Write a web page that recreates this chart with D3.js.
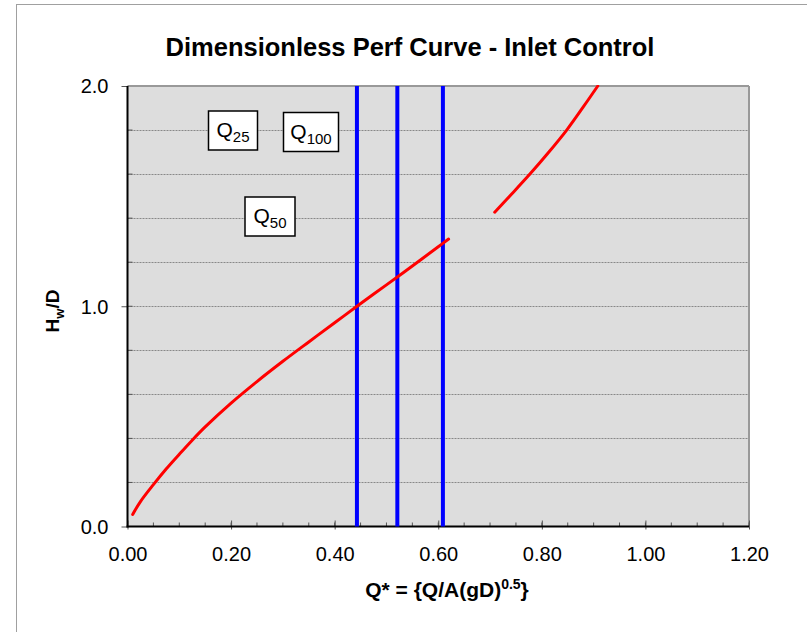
<!DOCTYPE html>
<html><head><meta charset="utf-8">
<script src="https://cdn.jsdelivr.net/npm/d3@7"></script>
<style>body{margin:0;background:#fff}svg{display:block}text{font-family:Arial,"Liberation Sans",sans-serif}</style>
</head><body><svg id="c" width="807" height="632"></svg>
<script>
// Data
const curve1X = [0.01,0.025,0.05,0.075,0.10,0.125,0.15,0.20,0.25,0.30,0.35,0.40,0.443,0.50,0.55,0.60,0.62];
const curve1Y = [0.055,0.113,0.19,0.262,0.328,0.392,0.452,0.56,0.658,0.75,0.838,0.925,1.0,1.097,1.183,1.27,1.305];
const curve2X = [0.709,0.74,0.777,0.81,0.848,0.88,0.908];
const curve2Y = [1.427,1.505,1.60,1.69,1.80,1.905,2.0];
const flowNames = ["Q25","Q50","Q100"];
const flowQ = [0.443,0.521,0.609];
const labelSub = ["25","100","50"];
const xTicks = [0,0.2,0.4,0.6,0.8,1.0,1.2];
const yTicks = [0,1,2];
const yGrid = [0.2,0.4,0.6,0.8,1.0,1.2,1.4,1.6,1.8];

const svg = d3.select("#c");
const L=127.5, R=749, T=86, B=526.5;
const x = d3.scaleLinear().domain([0,1.2]).range([L,R]);
const y = d3.scaleLinear().domain([0,2]).range([B,T]);

// outer frame
svg.append("rect").attr("x",16.5).attr("y",4.5).attr("width",820).attr("height",660)
  .attr("fill","none").attr("stroke","#a0a0a0").attr("stroke-width",1);

// plot area
svg.append("rect").attr("x",L).attr("y",T).attr("width",R-L).attr("height",B-T).attr("fill","#dddddd");
// gridlines
svg.append("g").selectAll("line").data(yGrid).join("line")
  .attr("x1",L).attr("x2",R).attr("y1",d=>Math.round(y(d))+0.5).attr("y2",d=>Math.round(y(d))+0.5)
  .attr("stroke","#888").attr("stroke-width",1).attr("stroke-dasharray","2,1");
// top and right border
svg.append("line").attr("x1",L).attr("x2",R).attr("y1",T).attr("y2",T).attr("stroke","#999").attr("stroke-width",2);
svg.append("line").attr("x1",R).attr("x2",R).attr("y1",T).attr("y2",B).attr("stroke","#999").attr("stroke-width",2);

// x axis
const xMinor = d3.range(0,1.2001,0.05);
svg.append("g").selectAll("line").data(xMinor).join("line")
  .attr("x1",d=>x(d)).attr("x2",d=>x(d)).attr("y1",B).attr("y2",B-4).attr("stroke","#555");
const xAxis = d3.axisBottom(x).tickValues(xTicks).tickFormat(d3.format(".2f")).tickSize(6);
const gx = svg.append("g").attr("transform",`translate(0,${B})`).call(xAxis);
gx.select(".domain").remove();
gx.selectAll(".tick line").attr("y1",-6).attr("y2",3).attr("stroke","#555");
gx.selectAll("text").attr("font-size",20).attr("fill","#000").attr("y",34).attr("dy",0)
  .attr("font-family","Arial, Liberation Sans, sans-serif");
svg.append("line").attr("x1",L-1).attr("x2",R).attr("y1",B).attr("y2",B).attr("stroke","#000").attr("stroke-width",2);

// y axis
svg.append("g").selectAll("line").data(yGrid).join("line")
  .attr("x1",L).attr("x2",L+5).attr("y1",d=>y(d)).attr("y2",d=>y(d)).attr("stroke","#555");
const yAxis = d3.axisLeft(y).tickValues(yTicks).tickFormat(d3.format(".1f")).tickSize(6).tickPadding(13);
const gy = svg.append("g").attr("transform",`translate(${L},0)`).call(yAxis);
gy.select(".domain").remove();
gy.selectAll(".tick line").attr("stroke","#555");
gy.selectAll("text").attr("font-size",20).attr("fill","#000").attr("dy","0.34em")
  .attr("font-family","Arial, Liberation Sans, sans-serif");
svg.append("line").attr("x1",L).attr("x2",L).attr("y1",T).attr("y2",B+1).attr("stroke","#000").attr("stroke-width",2);

// clip
svg.append("clipPath").attr("id","pc").append("rect").attr("x",L).attr("y",T-1).attr("width",R-L).attr("height",B-T+1);

// flow lines
svg.append("g").selectAll("line").data(flowQ).join("line")
  .attr("x1",d=>x(d)).attr("x2",d=>x(d)).attr("y1",T).attr("y2",B)
  .attr("stroke","#0000ff").attr("stroke-width",4);

// curves
const line = d3.line().x(d=>x(d[0])).y(d=>y(d[1])).curve(d3.curveCatmullRom);
const g = svg.append("g").attr("clip-path","url(#pc)");
[[curve1X,curve1Y],[curve2X,curve2Y]].forEach(([xs,ys])=>{
  g.append("path").datum(xs.map((v,i)=>[v,ys[i]])).attr("d",line)
   .attr("fill","none").attr("stroke","#ff0000").attr("stroke-width",3).attr("stroke-linecap","round");
});

// label boxes
const boxes = [
  {x0:208.5,y0:111,w:49,h:39,sub:labelSub[0]},
  {x0:283.5,y0:112.5,w:55,h:39,sub:labelSub[1]},
  {x0:245,y0:197,w:50,h:39,sub:labelSub[2]}
];
boxes.forEach(b=>{
  svg.append("rect").attr("x",b.x0).attr("y",b.y0).attr("width",b.w).attr("height",b.h)
    .attr("fill","#fff").attr("stroke","#000").attr("stroke-width",1.5);
  const t = svg.append("text").attr("x",b.x0+b.w/2).attr("y",b.y0+26).attr("text-anchor","middle")
    .attr("font-size",21).attr("fill","#000");
  t.append("tspan").text("Q");
  t.append("tspan").attr("font-size",15).attr("dy",5).text(b.sub);
});

// title
svg.append("text").attr("x",410).attr("y",56).attr("text-anchor","middle")
  .attr("font-size",25.5).attr("font-weight","bold").text("Dimensionless Perf Curve - Inlet Control");

// x label
const xl = svg.append("text").attr("x",447).attr("y",597).attr("text-anchor","middle")
  .attr("font-size",21).attr("font-weight","bold");
xl.append("tspan").text("Q* = {Q/A(gD)");
xl.append("tspan").attr("font-size",14).attr("dy",-8).text("0.5");
xl.append("tspan").attr("dy",8).text("}");

// y label
const yl = svg.append("text").attr("transform","translate(59,311) rotate(-90)").attr("text-anchor","middle")
  .attr("font-size",19).attr("font-weight","bold");
yl.append("tspan").text("H");
yl.append("tspan").attr("font-size",13).attr("dy",5).text("w");
yl.append("tspan").attr("dy",-5).text("/D");
</script></body></html>
